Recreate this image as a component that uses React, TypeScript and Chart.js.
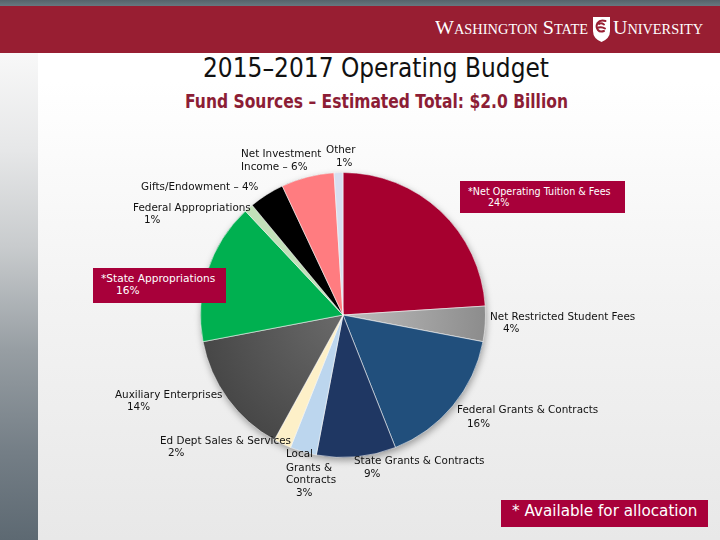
import React, { useEffect, useLayoutEffect, useRef } from "react";
import { Chart, registerables } from "chart.js";

Chart.register(...registerables);

// ---- Data ----
const categories = [
  "*Net Operating Tuition & Fees",
  "Net Restricted Student Fees",
  "Federal Grants & Contracts",
  "State Grants & Contracts",
  "Local Grants & Contracts",
  "Ed Dept Sales & Services",
  "Auxiliary Enterprises",
  "*State Appropriations",
  "Federal Appropriations",
  "Gifts/Endowment",
  "Net Investment Income",
  "Other",
];
const shares = [24, 4, 16, 9, 3, 2, 14, 16, 1, 4, 6, 1];
const sliceColors = [
  "#a6002f", "#a3a3a3", "#214f7c", "#1f3763", "#bcd6ee", "#fdf0c8",
  "#595959", "#00b050", "#c2e0b9", "#000000", "#ff7c80", "#d8dff0",
];
const gradientPairs: Record<number, [string, string]> = {
  1: ["#bdbdbd", "#8c8c8c"],
  6: ["#6a6a6a", "#474747"],
};

const titleText = "2015–2017 Operating Budget";
const subtitleText = "Fund Sources – Estimated Total: $2.0 Billion";
const footnoteText = "* Available for allocation";

// ---- label layout (text annotations) ----
type Line = { t: string; x: number; b: number };
type Label = { lines: Line[]; size: number; color: string; box?: { x: number; y: number; w: number; h: number } };

const CRIMSON_BOX = "#a8003a";

const labels: Label[] = [
  { size: 9.6, color: "#fff", box: { x: 460, y: 181, w: 165, h: 32 },
    lines: [{ t: "*Net Operating Tuition & Fees", x: 468, b: 195 }, { t: "24%", x: 488, b: 206 }] },
  { size: 10.4, color: "#111", lines: [{ t: "Net Restricted Student Fees", x: 490, b: 320 }, { t: "4%", x: 503, b: 332 }] },
  { size: 10.4, color: "#111", lines: [{ t: "Federal Grants & Contracts", x: 457, b: 413 }, { t: "16%", x: 467, b: 427 }] },
  { size: 10.4, color: "#111", lines: [{ t: "State Grants & Contracts", x: 354, b: 464 }, { t: "9%", x: 364, b: 477 }] },
  { size: 10.4, color: "#111", lines: [
    { t: "Local", x: 286, b: 457 }, { t: "Grants &", x: 286, b: 471 },
    { t: "Contracts", x: 286, b: 483 }, { t: "3%", x: 296, b: 496 }] },
  { size: 10.4, color: "#111", lines: [{ t: "Ed Dept Sales & Services", x: 160, b: 444 }, { t: "2%", x: 168, b: 456 }] },
  { size: 10.4, color: "#111", lines: [{ t: "Auxiliary Enterprises", x: 115, b: 398 }, { t: "14%", x: 127, b: 410 }] },
  { size: 10.6, color: "#fff", box: { x: 93, y: 268, w: 133, h: 35 },
    lines: [{ t: "*State Appropriations", x: 101, b: 282 }, { t: "16%", x: 116, b: 294 }] },
  { size: 10.4, color: "#111", lines: [{ t: "Federal Appropriations", x: 133, b: 211 }, { t: "1%", x: 144, b: 223 }] },
  { size: 10.4, color: "#111", lines: [{ t: "Gifts/Endowment – 4%", x: 141, b: 190 }] },
  { size: 10.4, color: "#111", lines: [{ t: "Net Investment", x: 241, b: 157 }, { t: "Income – 6%", x: 241, b: 170 }] },
  { size: 10.4, color: "#111", lines: [{ t: "Other", x: 326, b: 153 }, { t: "1%", x: 336, b: 166 }] },
];

const FONT = "'DejaVu Sans', Verdana, sans-serif";

function FitText(props: {
  text: string; left: number; top: number; width: number; style?: React.CSSProperties;
}) {
  const ref = useRef<HTMLSpanElement>(null);
  useLayoutEffect(() => {
    const el = ref.current;
    if (!el) return;
    el.style.transform = "none";
    const w = el.getBoundingClientRect().width;
    if (w > 0) el.style.transform = `scaleX(${props.width / w})`;
  }, [props.text, props.width]);
  return (
    <span
      ref={ref}
      style={{
        position: "absolute", left: props.left, top: props.top, whiteSpace: "nowrap",
        display: "inline-block", transformOrigin: "0 0", ...props.style,
      }}
    >
      {props.text}
    </span>
  );
}

const pieShadow = {
  id: "pieShadow",
  beforeDatasetsDraw(chart: any) {
    const arc = chart.getDatasetMeta(0).data[0];
    if (!arc) return;
    const { x, y, outerRadius } = arc.getProps(["x", "y", "outerRadius"], true);
    const ctx = chart.ctx;
    ctx.save();
    ctx.shadowColor = "rgba(0,0,0,0.35)";
    ctx.shadowBlur = 7;
    ctx.shadowOffsetX = 1;
    ctx.shadowOffsetY = 3;
    ctx.beginPath();
    ctx.arc(x, y, outerRadius, 0, Math.PI * 2);
    ctx.fillStyle = "#888";
    ctx.fill();
    ctx.restore();
  },
};

function PieChart() {
  const ref = useRef<HTMLCanvasElement>(null);
  useEffect(() => {
    if (!ref.current) return;
    const chart = new Chart(ref.current, {
      type: "pie",
      data: {
        labels: categories,
        datasets: [
          {
            data: shares,
            backgroundColor: (c: any) => {
              const i = c.dataIndex;
              const pair = gradientPairs[i];
              const a = c.chart.chartArea;
              if (!pair || !a) return sliceColors[i];
              const cx = (a.left + a.right) / 2;
              const cy = (a.top + a.bottom) / 2;
              const r = Math.min(a.right - a.left, a.bottom - a.top) / 2;
              const g = c.chart.ctx.createRadialGradient(cx, cy, 0, cx, cy, r);
              g.addColorStop(0, pair[0]);
              g.addColorStop(1, pair[1]);
              return g;
            },
            borderColor: "rgba(255,255,255,0.55)",
            borderWidth: 1,
          },
        ],
      },
      options: {
        responsive: false,
        animation: false,
        layout: { padding: { left: 200, right: 234, top: 172, bottom: 82 } },
        plugins: {
          legend: { display: false },
          tooltip: { enabled: false },
          title: { display: false },
        },
      },
      plugins: [pieShadow],
    } as any);
    return () => chart.destroy();
  }, []);
  return (
    <canvas
      ref={ref}
      width={720}
      height={540}
      style={{ position: "absolute", left: 0, top: 0, width: 720, height: 540, display: "block" }}
    />
  );
}

function Shield() {
  return (
    <svg width={19} height={27} viewBox="0 0 19 27" style={{ position: "absolute", left: 592, top: 16 }}>
      <path d="M1 1 H18 V15 Q18 22.5 9.5 26 Q1 22.5 1 15 Z" fill="#ffffff" />
      <path
        d="M13.5 5 Q8 3.5 5.5 7 Q3.5 11 6 14 Q8 16.5 12 15 M7 8 Q9 6.5 12 8.5 M6.5 11.5 Q10 10.5 13 12.5"
        fill="none" stroke="#981e32" strokeWidth={2} strokeLinecap="round"
      />
    </svg>
  );
}

export default function App() {
  const lineTop = (b: number, size: number) => b - 0.846 * size;
  return (
    <div
      style={{
        position: "fixed", left: 0, top: 0, width: 720, height: 540, overflow: "hidden",
        background: "linear-gradient(to bottom, #ffffff 0%, #ffffff 15%, #f3f3f3 55%, #e8e8e8 100%)",
        fontFamily: FONT,
      }}
    >
      {/* left strip */}
      <div
        style={{
          position: "absolute", left: 0, top: 53, width: 38, height: 487,
          background:
            "linear-gradient(to bottom, #f8f8f8 0%, #e6e7e8 20%, #c8cbcd 40%, #979ea3 61%, #747e86 82%, #5d6972 100%)",
        }}
      />
      {/* banner */}
      <div style={{ position: "absolute", left: 0, top: 0, width: 720, height: 6, background: "linear-gradient(#55636b, #677780)" }} />
      <div style={{ position: "absolute", left: 0, top: 6, width: 720, height: 47, background: "#981e32" }} />
      <FitText
        text="Washington State"
        left={435}
        top={17.5}
        width={153}
        style={{ fontFamily: "'Liberation Serif', 'DejaVu Serif', serif", fontVariant: "small-caps", fontSize: 19.5, lineHeight: "19.5px", color: "#fff" }}
      />
      <Shield />
      <FitText
        text="University"
        left={613}
        top={17.5}
        width={90}
        style={{ fontFamily: "'Liberation Serif', 'DejaVu Serif', serif", fontVariant: "small-caps", fontSize: 19.5, lineHeight: "19.5px", color: "#fff" }}
      />

      {/* titles */}
      <FitText
        text={titleText}
        left={203}
        top={lineTop(77, 26)}
        width={346}
        style={{ fontFamily: FONT, fontSize: 26, lineHeight: "26px", color: "#111" }}
      />
      <FitText
        text={subtitleText}
        left={185}
        top={lineTop(108, 19.5)}
        width={383}
        style={{ fontFamily: FONT, fontWeight: "bold", fontSize: 19.5, lineHeight: "19.5px", color: "#8c1d35" }}
      />

      <PieChart />

      {/* slice labels */}
      {labels.map((lab, i) => (
        <React.Fragment key={i}>
          {lab.box && (
            <div
              style={{
                position: "absolute", left: lab.box.x, top: lab.box.y, width: lab.box.w, height: lab.box.h,
                background: CRIMSON_BOX,
              }}
            />
          )}
          {lab.lines.map((ln, j) => (
            <div
              key={j}
              style={{
                position: "absolute", left: ln.x, top: lineTop(ln.b, lab.size), whiteSpace: "nowrap",
                fontSize: lab.size, lineHeight: `${lab.size}px`, color: lab.color, fontFamily: FONT,
              }}
            >
              {ln.t}
            </div>
          ))}
        </React.Fragment>
      ))}

      {/* footnote */}
      <div style={{ position: "absolute", left: 501, top: 500, width: 207, height: 27, background: CRIMSON_BOX }} />
      <div
        style={{
          position: "absolute", left: 512, top: lineTop(517, 15.2), whiteSpace: "nowrap",
          fontSize: 15.2, lineHeight: "15.2px", color: "#fff", fontFamily: FONT,
        }}
      >
        {footnoteText}
      </div>
    </div>
  );
}
